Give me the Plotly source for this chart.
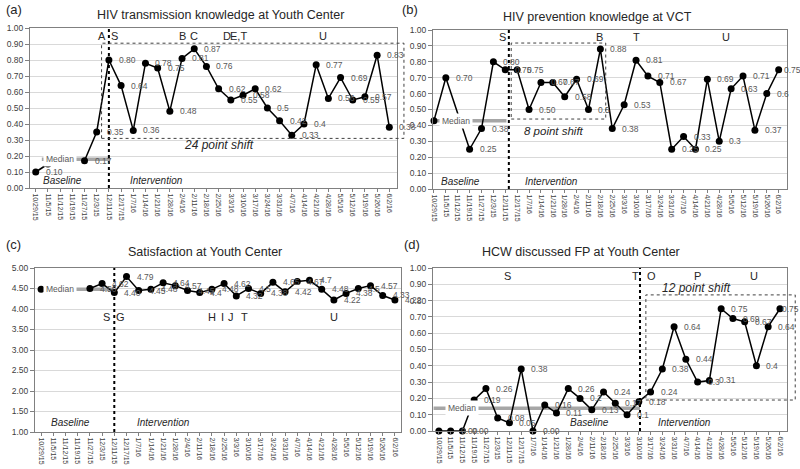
import plotly.graph_objects as go

# ---------------- data ----------------
dates = ["10/29/15", "11/5/15", "11/12/15", "11/19/15", "11/27/15", "12/3/15", "12/11/15",
         "12/17/15", "1/7/16", "1/14/16", "1/21/16", "1/28/16", "2/4/16", "2/11/16", "2/18/16",
         "2/25/16", "3/3/16", "3/10/16", "3/17/16", "3/24/16", "3/31/16", "4/7/16", "4/14/16",
         "4/21/16", "4/28/16", "5/5/16", "5/12/16", "5/19/16", "5/26/16", "6/2/16"]

a_vals = [0.10, 0.15, None, None, 0.17, 0.35, 0.80, 0.64, 0.36, 0.78, 0.75, 0.48, 0.81, 0.87, 0.76,
          0.62, 0.55, 0.58, 0.62, 0.50, 0.42, 0.33, 0.40, 0.77, 0.56, 0.69, 0.55, 0.57, 0.83, 0.38]
a_labels = ["0.10", "", "", "", "0.17", "0.35", "0.80", "0.64", "0.36", "0.78", "0.75", "0.48", "0.81",
            "0.87", "0.76", "0.62", "0.55", "0.58", "0.62", "0.5", "0.42", "0.33", "0.4", "0.77",
            "0.56", "0.69", "0.55", "0.57", "0.83", "0.38"]
a_median = 0.18

b_vals = [0.43, 0.70, None, 0.25, 0.38, 0.80, 0.75, 0.75, 0.50, 0.67, 0.67, 0.58, 0.69, 0.50, 0.88,
          0.38, 0.53, 0.81, 0.71, 0.67, 0.25, 0.33, 0.25, 0.69, 0.30, 0.63, 0.71, 0.37, 0.60, 0.75]
b_labels = ["", "0.70", "", "0.25", "0.38", "0.80", "0.75", "0.75", "0.50", "0.67", "0.67", "0.58",
            "0.69", "0.5", "0.88", "0.38", "0.53", "0.81", "0.71", "0.67", "0.25", "0.33", "0.25",
            "0.69", "0.3", "0.63", "0.71", "0.37", "0.6", "0.75"]
b_median = 0.43

c_vals = [4.48, None, None, None, 4.50, 4.62, 4.40, 4.79, 4.45, 4.48, 4.64, 4.57, 4.45, 4.40, 4.48,
          4.62, 4.32, 4.50, 4.38, 4.65, 4.42, 4.67, 4.70, 4.48, 4.22, 4.38, 4.50, 4.57, 4.33, 4.22]
c_labels = ["", "", "", "", "4.50", "4.62", "4.40", "4.79", "4.45", "4.48", "4.64", "4.57", "4.45",
            "4.4", "4.48", "4.62", "4.32", "4.5", "4.38", "4.65", "4.42", "4.67", "4.7", "4.48",
            "4.22", "4.38", "4.5", "4.57", "4.33", "4.22"]
c_median = 4.48

d_vals = [0.00, 0.00, 0.00, 0.19, 0.26, 0.08, 0.05, 0.38, 0.00, 0.16, 0.11, 0.26, 0.20, 0.13, 0.24,
          0.17, 0.10, 0.18, 0.24, 0.38, 0.64, 0.44, 0.30, 0.31, 0.75, 0.69, 0.67, 0.40, 0.64, 0.75]
d_labels = ["", "0.00", "0.00", "0.19", "0.26", "0.08", "0.05", "0.38", "0.00", "0.16", "0.11",
            "0.26", "0.2", "0.13", "0.24", "0.17", "0.1", "0.18", "0.24", "0.38", "0.64", "0.44",
            "0.3", "0.31", "0.75", "0.69", "0.67", "0.4", "0.64", "0.75"]
d_median = 0.14

titles = ["HIV transmission knowledge at Youth Center", "HIV prevention knowledge at VCT",
          "Satisfaction at Youth Center", "HCW discussed FP at Youth Center"]
panel_tags = ["(a)", "(b)", "(c)", "(d)"]

# ---------------- layout geometry ----------------
W, H = 800, 469
FONT = "Liberation Sans, Arial, sans-serif"
TXT = "#404040"

P = {
    "a": dict(ax="", xd=[30 / W, 397 / W], yd=[1 - 188 / H, 1 - 28 / H], xr=[-0.47, 29.63], yr=[0, 1], dt=0.1),
    "b": dict(ax="2", xd=[433 / W, 787 / W], yd=[1 - 189 / H, 1 - 30 / H], xr=[-0.08, 29.7], yr=[0, 1], dt=0.1),
    "c": dict(ax="3", xd=[35 / W, 401 / W], yd=[1 - 432 / H, 1 - 268 / H], xr=[-0.5, 29.5], yr=[1, 5], dt=0.5),
    "d": dict(ax="4", xd=[433 / W, 787 / W], yd=[1 - 431 / H, 1 - 268 / H], xr=[-0.5, 29.6], yr=[0, 1], dt=0.1),
}


def px(k, v):
    p = P[k]
    return p["xd"][0] + (v - p["xr"][0]) / (p["xr"][1] - p["xr"][0]) * (p["xd"][1] - p["xd"][0])


def py(k, v):
    p = P[k]
    return p["yd"][0] + (v - p["yr"][0]) / (p["yr"][1] - p["yr"][0]) * (p["yd"][1] - p["yd"][0])


fig = go.Figure()
annotations = []
shapes = []
layout_axes = {}

series = {
    "a": (a_vals, a_labels, a_median, False, (0.5, 6.1), 2.0),
    "b": (b_vals, b_labels, b_median, True, (0.0, 6.1), 1.85),
    "c": (c_vals, c_labels, c_median, False, (0.0, 6.0), 1.55),
    "d": (d_vals, d_labels, d_median, False, (-0.45, 17.1), 1.95),
}

xs = list(range(len(dates)))
last = len(dates) - 1
last_shift = {"b": 3, "d": 0}

for k, (vals, labels, med, cg, (m0, m1), mlab) in series.items():
    ax = P[k]["ax"]
    xa, ya = "x" + ax, "y" + ax
    # median line
    fig.add_trace(go.Scatter(x=[m0, m1], y=[med, med], mode="lines",
                             line=dict(color="#a6a6a6", width=3.5), xaxis=xa, yaxis=ya,
                             hoverinfo="skip", showlegend=False))
    # data line
    fig.add_trace(go.Scatter(x=xs, y=vals, mode="lines+markers", connectgaps=cg,
                             line=dict(color="black", width=1.5),
                             marker=dict(color="black", size=7),
                             cliponaxis=False, xaxis=xa, yaxis=ya, showlegend=False))
    # data labels (the last one of the right-hand panels sits tighter to fit the page)
    for i, (v, lab) in enumerate(zip(vals, labels)):
        if v is None or not lab:
            continue
        shift = last_shift.get(k, 8) if i == last else 8
        annotations.append(dict(x=i, y=v, xref=xa, yref=ya, text=lab, showarrow=False,
                                xanchor="left", yanchor="middle", xshift=shift,
                                font=dict(size=8.5, color="#595959", family=FONT)))
    # median label
    annotations.append(dict(x=mlab, y=med, xref=xa, yref=ya, text="Median", showarrow=False,
                            bgcolor="white", borderpad=2,
                            font=dict(size=8.5, color="#595959", family=FONT)))
    yaxis_key = "yaxis" + ax
    xaxis_key = "xaxis" + ax
    layout_axes[xaxis_key] = dict(domain=P[k]["xd"], range=P[k]["xr"], anchor=ya,
                                  tickmode="array", tickvals=xs, ticktext=dates, tickangle=90,
                                  tickfont=dict(size=7, color=TXT, family=FONT),
                                  ticks="outside", ticklen=3, tickcolor="#808080",
                                  showline=True, linecolor="#808080", linewidth=1, mirror=True,
                                  showgrid=False, zeroline=False, automargin=False)
    layout_axes[yaxis_key] = dict(domain=P[k]["yd"], range=P[k]["yr"], anchor=xa,
                                  dtick=P[k]["dt"], tick0=P[k]["yr"][0], tickformat=".2f",
                                  tickfont=dict(size=8.5, color=TXT, family=FONT),
                                  ticks="outside", ticklen=4, tickcolor="#808080",
                                  showline=True, linecolor="#808080", linewidth=1, mirror=True,
                                  showgrid=True, gridcolor="#d9d9d9", gridwidth=1,
                                  zeroline=False, automargin=False)

# ---------------- panel titles and tags ----------------
title_pos = [(220, 15), (597, 17), (205, 252), (581, 252)]
tag_pos = [(4, 10), (400, 10), (4, 245), (402, 245)]
for t, (x, y) in zip(titles, title_pos):
    annotations.append(dict(x=x / W, y=1 - y / H, xref="paper", yref="paper", text=t,
                            showarrow=False, xanchor="center", yanchor="middle",
                            font=dict(size=12.5, color="#262626", family=FONT)))
for t, (x, y) in zip(panel_tags, tag_pos):
    annotations.append(dict(x=x / W, y=1 - y / H, xref="paper", yref="paper", text=t,
                            showarrow=False, xanchor="left", yanchor="middle",
                            font=dict(size=13, color="#262626", family=FONT)))

# ---------------- intervention markers ----------------
letters = {
    "a": [("A", 5.45, 0.95), ("S", 6.45, 0.95), ("B", 12.0, 0.95), ("C", 13.0, 0.95),
          ("D", 15.7, 0.95), ("E,T", 16.6, 0.95), ("U", 23.6, 0.95)],
    "b": [("S", 5.75, 0.955), ("B", 13.9, 0.955), ("T", 17.0, 0.955), ("U", 24.6, 0.955)],
    "c": [("S", 5.4, 3.8), ("G", 6.5, 3.8), ("H", 14.0, 3.8), ("I", 14.9, 3.8),
          ("J", 15.6, 3.8), ("T", 16.7, 3.8), ("U", 24.0, 3.8)],
    "d": [("S", 5.8, 0.95), ("T", 16.7, 0.95), ("O", 18.1, 0.95), ("P", 22.0, 0.95), ("U", 26.8, 0.95)],
}
for k, items in letters.items():
    ax = P[k]["ax"]
    for t, x, y in items:
        annotations.append(dict(x=x, y=y, xref="x" + ax, yref="y" + ax, text=t, showarrow=False,
                                font=dict(size=11, color="#262626", family=FONT)))

# vertical phase-change lines
vlines = {"a": 6.0, "b": 6.3, "c": 6.0, "d": 17.1}
for k, xv in vlines.items():
    ax = P[k]["ax"]
    shapes.append(dict(type="line", xref="x" + ax, yref="y" + ax + " domain", x0=xv, x1=xv,
                       y0=0, y1=1, line=dict(color="black", width=2, dash="dot")))

# shift rectangles (paper coordinates, they run past the plot frame)
rects = {"a": (5.4, 30.2, 0.31, 0.905), "b": (6.5, 14.45, 0.44, 0.918), "d": (17.6, 30.3, 0.19, 0.835)}
for k, (x0, x1, y0, y1) in rects.items():
    shapes.append(dict(type="rect", xref="paper", yref="paper", x0=px(k, x0), x1=px(k, x1),
                       y0=py(k, y0), y1=py(k, y1), line=dict(color="#404040", width=1, dash="dot")))

# italic phase texts
phase = {
    "a": [("24 point shift", 15.0, 0.27, 12), ("Baseline", 2.2, 0.045, 10), ("Intervention", 9.9, 0.045, 10)],
    "b": [("8 point shift", 10.1, 0.365, 11.5), ("Baseline", 2.2, 0.045, 10), ("Intervention", 9.9, 0.045, 10)],
    "c": [("Baseline", 2.4, 1.22, 10), ("Intervention", 10.0, 1.22, 10)],
    "d": [("12 point shift", 21.9, 0.88, 12), ("Baseline", 12.8, 0.05, 10), ("Intervention", 20.9, 0.05, 10)],
}
for k, items in phase.items():
    ax = P[k]["ax"]
    for t, x, y, s in items:
        annotations.append(dict(x=x, y=y, xref="x" + ax, yref="y" + ax, text="<i>" + t + "</i>",
                                showarrow=False, font=dict(size=s, color="#262626", family=FONT)))

fig.update_layout(width=W, height=H, margin=dict(l=0, r=0, t=0, b=0),
                  paper_bgcolor="white", plot_bgcolor="white", template="none",
                  font=dict(family=FONT), showlegend=False,
                  annotations=annotations, shapes=shapes, **layout_axes)

fig.write_html("out.html", config={"displayModeBar": False},
               post_script="document.body.style.margin='0';document.body.style.overflow='hidden';")
